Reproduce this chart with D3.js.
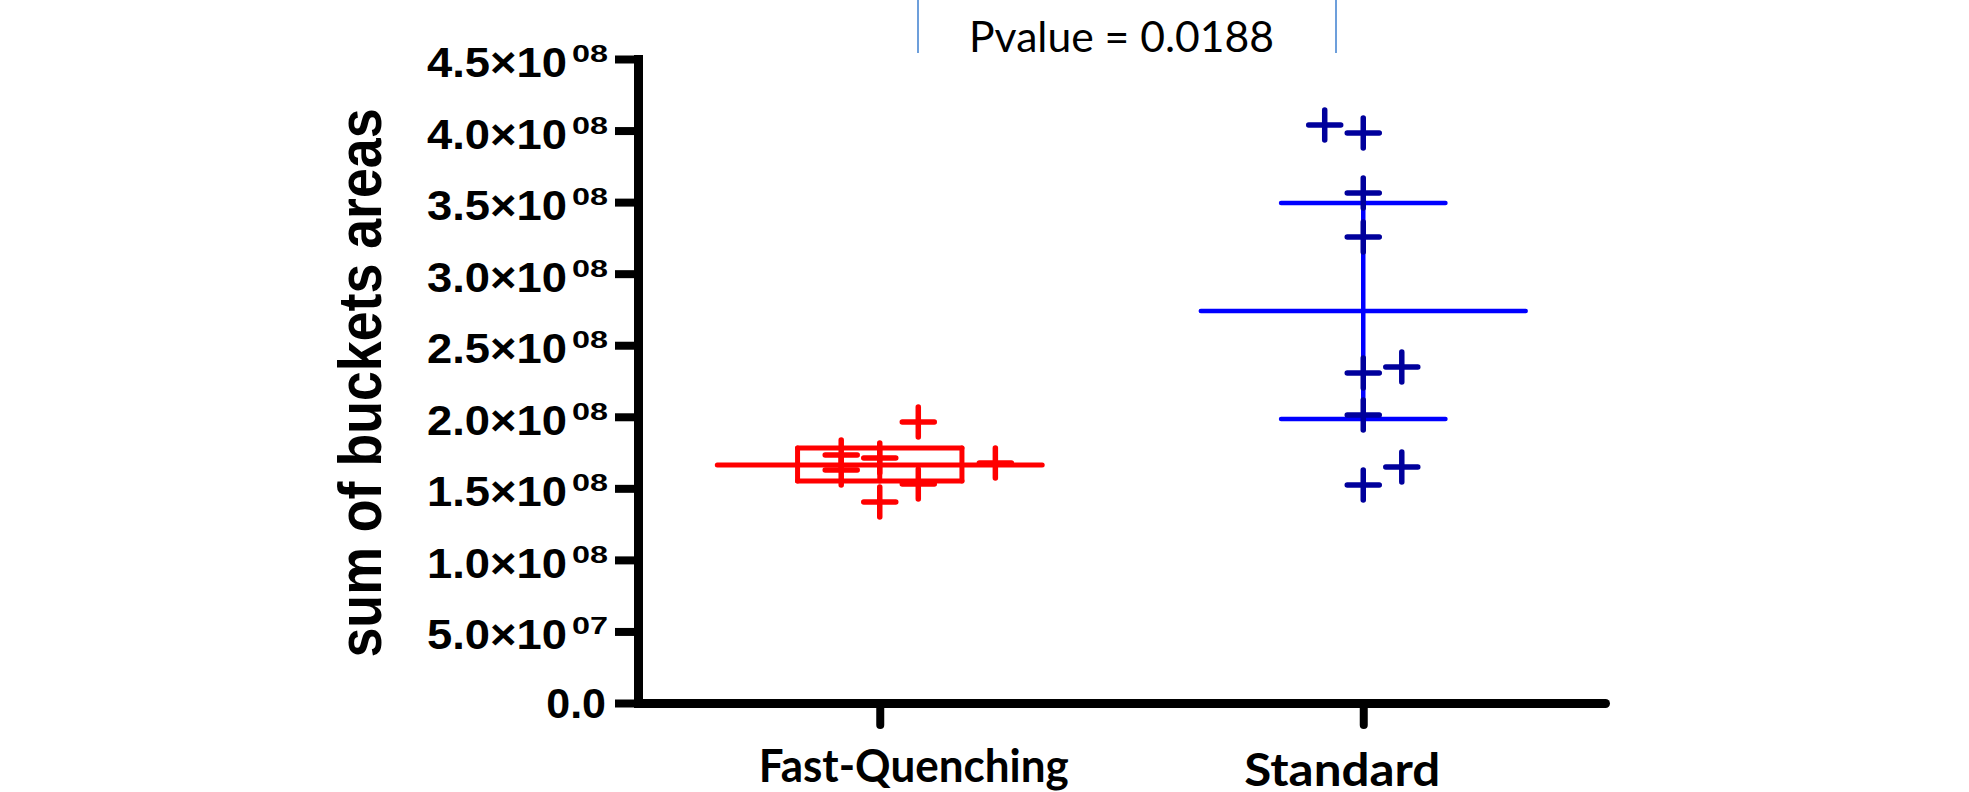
<!DOCTYPE html>
<html>
<head>
<meta charset="utf-8">
<script src="https://cdn.jsdelivr.net/npm/d3@7"></script>
<style>
  html, body { margin: 0; padding: 0; background: #ffffff; }
  svg { display: block; }
</style>
</head>
<body>
<svg id="chart" width="1969" height="792"></svg>
<script>
// ---------- data ----------
const categories = ["Fast-Quenching", "Standard"];

// individual points (values) and their column-scatter slot
const fastValues = [1.963e8, 1.733e8, 1.712e8, 1.677e8, 1.628e8, 1.530e8, 1.404e8];
const fastSlots  = [1, -1, 0, 3, -1, 1, 0];

const standardValues = [4.039e8, 3.983e8, 3.563e8, 3.256e8, 2.348e8, 2.306e8, 2.012e8, 1.649e8, 1.523e8];
const standardSlots  = [-1, 0, 0, 0, 1, 0, 0, 1, 0];

// summary lines: centre, lower, upper
const fastSummary     = [1.663e8, 1.551e8, 1.782e8];
const standardSummary = [2.739e8, 1.984e8, 3.494e8];

const yTicks = [0, 5e7, 1e8, 1.5e8, 2e8, 2.5e8, 3e8, 3.5e8, 4e8, 4.5e8];
const yTickMantissa = ["0.0", "5.0", "1.0", "1.5", "2.0", "2.5", "3.0", "3.5", "4.0", "4.5"];
const yTickExponent = ["", "07", "08", "08", "08", "08", "08", "08", "08", "08"];

const yLabel = "sum of buckets areas";
const annotation = "Pvalue = 0.0188";

// ---------- layout ----------
const svg = d3.select("#chart");
const plotLeft = 638, plotRight = 1605, plotTop = 59, plotBottom = 703;

const x = d3.scalePoint().domain(categories).range([plotLeft, plotRight]).padding(0.5);
const y = d3.scaleLinear().domain([0, 4.5e8]).range([plotBottom, plotTop]);
const step = x.step();

const groups = [
  { name: categories[0], values: fastValues, slots: fastSlots, summary: fastSummary,
    line: "#ff0000", mark: "#ff0000", box: true, lw: 5 },
  { name: categories[1], values: standardValues, slots: standardSlots, summary: standardSummary,
    line: "#0000ff", mark: "#00009c", box: false, lw: 4.5 }
];

// ---------- annotation at top ----------
const ann = svg.append("g");
ann.append("line").attr("x1", 918).attr("x2", 918).attr("y1", 0).attr("y2", 53)
  .attr("stroke", "#6d9fdb").attr("stroke-width", 2);
ann.append("line").attr("x1", 1336).attr("x2", 1336).attr("y1", 0).attr("y2", 53)
  .attr("stroke", "#6d9fdb").attr("stroke-width", 2);
ann.append("text").attr("x", 969).attr("y", 52)
  .attr("font-family", "Lato, 'Open Sans', sans-serif").attr("font-size", 42)
  .attr("fill", "#000").attr("textLength", 305).attr("lengthAdjust", "spacingAndGlyphs")
  .text(annotation);

// ---------- axes ----------
const yAxis = svg.append("g").attr("transform", `translate(${plotLeft},0)`)
  .call(d3.axisLeft(y).tickValues(yTicks).tickSize(23).tickSizeOuter(0).tickFormat(""));
yAxis.select(".domain").attr("stroke", "#000").attr("stroke-width", 9).attr("stroke-linecap", "square");
yAxis.selectAll(".tick line").attr("stroke", "#000").attr("stroke-width", 8);

const xAxis = svg.append("g").attr("transform", `translate(0,${plotBottom})`)
  .call(d3.axisBottom(x).tickSize(22).tickSizeOuter(0).tickFormat(""));
xAxis.select(".domain").attr("stroke", "#000").attr("stroke-width", 9).attr("stroke-linecap", "round");
xAxis.selectAll(".tick line").attr("stroke", "#000").attr("stroke-width", 8).attr("stroke-linecap", "round");

// y tick labels with superscript exponent
const yl = svg.append("g").attr("font-family", "'Liberation Sans', Arial, sans-serif")
  .attr("font-weight", "bold").attr("fill", "#000");
yTicks.forEach((v, i) => {
  if (yTickExponent[i]) {
    yl.append("text").attr("x", 427).attr("y", y(v) + 18)
      .attr("font-size", 43).attr("textLength", 140).attr("lengthAdjust", "spacingAndGlyphs")
      .text(yTickMantissa[i] + "\u00d710");
    yl.append("text").attr("x", 572).attr("y", y(v) + 3)
      .attr("font-size", 24).attr("textLength", 36).attr("lengthAdjust", "spacingAndGlyphs")
      .text(yTickExponent[i]);
  } else {
    yl.append("text").attr("text-anchor", "end").attr("x", 606).attr("y", y(v) + 15)
      .attr("font-size", 43).text(yTickMantissa[i]);
  }
});

// y axis title
svg.append("text")
  .attr("transform", `translate(381,${383}) rotate(-90)`)
  .attr("text-anchor", "middle")
  .attr("font-family", "'Liberation Sans', Arial, sans-serif").attr("font-weight", "bold")
  .attr("font-size", 62).attr("textLength", 549).attr("lengthAdjust", "spacingAndGlyphs")
  .text(yLabel);

// x category labels
const xLabelShift = [34, -21];
const xLabelWidth = [310, 196];
const xLabelBase = [782, 786];
categories.forEach((c, i) => {
  svg.append("text")
    .attr("x", x(c) + xLabelShift[i]).attr("y", xLabelBase[i])
    .attr("text-anchor", "middle")
    .attr("font-family", "Lato, 'Open Sans', sans-serif").attr("font-weight", "bold")
    .attr("font-size", 46).attr("textLength", xLabelWidth[i]).attr("lengthAdjust", "spacingAndGlyphs")
    .text(c);
});

// ---------- groups ----------
const wideHalf = step * 0.336;
const capHalf = step * 0.17;
const slotW = step * 0.0797;
const plusHalf = 15;

groups.forEach(g => {
  const cx = x(g.name);
  const [mid, lo, hi] = g.summary;
  const gg = svg.append("g").attr("stroke-linecap", "round");

  // central whisker
  gg.append("line").attr("x1", cx).attr("x2", cx).attr("y1", y(hi)).attr("y2", y(lo))
    .attr("stroke", g.line).attr("stroke-width", g.lw);
  // caps
  [lo, hi].forEach(v => {
    gg.append("line").attr("x1", cx - capHalf).attr("x2", cx + capHalf)
      .attr("y1", y(v)).attr("y2", y(v)).attr("stroke", g.line).attr("stroke-width", g.lw);
  });
  if (g.box) {
    [-1, 1].forEach(s => {
      gg.append("line").attr("x1", cx + s * capHalf).attr("x2", cx + s * capHalf)
        .attr("y1", y(hi)).attr("y2", y(lo)).attr("stroke", g.line).attr("stroke-width", g.lw);
    });
  }
  // centre line
  gg.append("line").attr("x1", cx - wideHalf).attr("x2", cx + wideHalf)
    .attr("y1", y(mid)).attr("y2", y(mid)).attr("stroke", g.line).attr("stroke-width", g.lw);

  // points as plus markers
  g.values.forEach((v, i) => {
    const px = cx + g.slots[i] * slotW;
    const py = y(v);
    gg.append("line").attr("x1", px - plusHalf - 1).attr("x2", px + plusHalf + 1)
      .attr("y1", py).attr("y2", py).attr("stroke", g.mark).attr("stroke-width", 5.5);
    gg.append("line").attr("x1", px).attr("x2", px)
      .attr("y1", py - plusHalf).attr("y2", py + plusHalf).attr("stroke", g.mark).attr("stroke-width", 5.5);
  });
});
</script>
</body>
</html>
